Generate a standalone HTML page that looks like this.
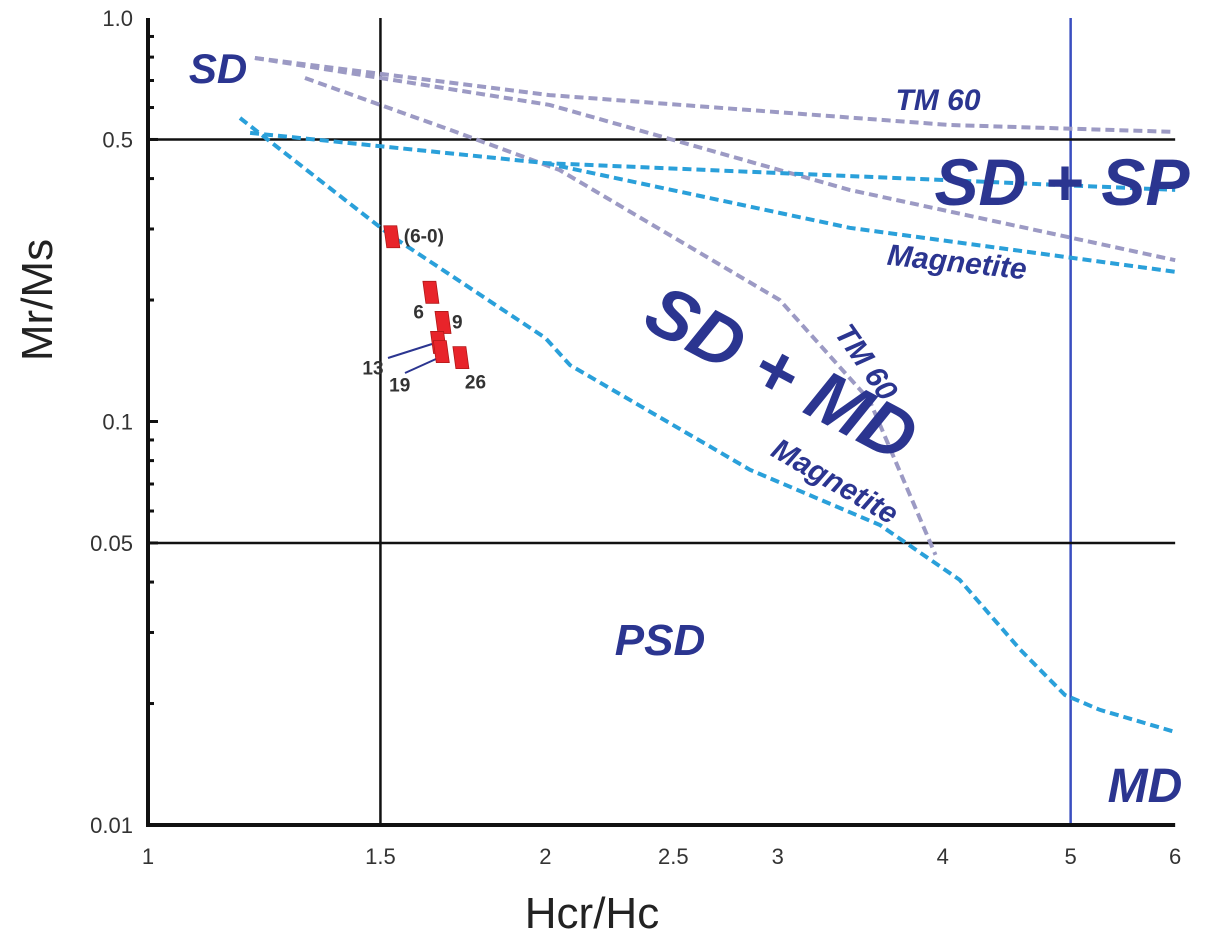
<!DOCTYPE html>
<html><head><meta charset="utf-8"><style>
html,body{margin:0;padding:0;background:#fff;}
svg{display:block;font-family:"Liberation Sans",sans-serif;}
</style></head><body>
<svg id="chart" width="1212" height="941" viewBox="0 0 1212 941" xmlns="http://www.w3.org/2000/svg">
<g id="grid"></g><g id="curves"></g><g id="axes"></g><g id="labels"></g><g id="points"></g>
</svg>
<script>
// ---- data ----
const xTicks = [1, 1.5, 2, 2.5, 3, 4, 5, 6];
const xTickLabels = ["1", "1.5", "2", "2.5", "3", "4", "5", "6"];
const yTicks = [1.0, 0.5, 0.1, 0.05, 0.01];
const yTickLabels = ["1.0", "0.5", "0.1", "0.05", "0.01"];
const sampleNames = ["(6-0)", "6", "9", "13", "19", "26"];
const sampleHcrHc = [1.53, 1.638, 1.673, 1.66, 1.668, 1.726];
const sampleMrMs = [0.287, 0.209, 0.176, 0.157, 0.149, 0.144];
const magMdX = [1.174, 1.525, 2.0, 2.088, 2.858, 3.585, 4.12, 4.58, 4.95, 5.26, 6.0];
const magMdY = [0.565, 0.290, 0.161, 0.138, 0.0759, 0.0554, 0.0405, 0.0272, 0.021, 0.0193, 0.017];
const magSpUpperX = [1.195, 2.0, 6.0];
const magSpUpperY = [0.519, 0.437, 0.375];
const magSpLowerX = [2.0, 3.40, 6.0];
const magSpLowerY = [0.437, 0.302, 0.235];
const tmTopX = [1.205, 2.015, 4.05, 6.0];
const tmTopY = [0.796, 0.644, 0.543, 0.522];
const tmSpX = [1.205, 2.015, 3.40, 6.0];
const tmSpY = [0.796, 0.609, 0.375, 0.251];
const tmMdX = [1.315, 1.694, 2.05, 3.01, 3.52, 3.95];
const tmMdY = [0.71, 0.528, 0.42, 0.2, 0.113, 0.0467];

// ---- axes functions ----
const X0 = 148, XPD = 1320, Y0 = 18, YPD = 403.5;
const sx = v => X0 + Math.log10(v) * XPD;
const sy = v => Y0 - Math.log10(v) * YPD;
const NS = "http://www.w3.org/2000/svg";
function mk(tag, attrs, parent) {
  const e = document.createElementNS(NS, tag);
  for (const k in attrs) e.setAttribute(k, attrs[k]);
  parent.appendChild(e); return e;
}
const grid = document.getElementById('grid'), curves = document.getElementById('curves'),
  axes = document.getElementById('axes'), labels = document.getElementById('labels'),
  points = document.getElementById('points');

let l;
l = mk('line', {x1: sx(1.5), x2: sx(1.5), y1: sy(1), y2: sy(0.01), stroke: '#111', 'stroke-width': 2.5}, grid);
 
l = mk('line', {x1: sx(5), x2: sx(5), y1: sy(1), y2: sy(0.01), stroke: '#3a4fc0', 'stroke-width': 2.5}, grid);
 
l = mk('line', {x1: sx(1), x2: sx(6), y1: sy(0.5), y2: sy(0.5), stroke: '#111', 'stroke-width': 2.5}, grid);
 
l = mk('line', {x1: sx(1), x2: sx(6), y1: sy(0.05), y2: sy(0.05), stroke: '#111', 'stroke-width': 2.5}, grid);
 

function curve(xs, ys, color, name) {
  const d = xs.map((v, i) => (i ? 'L' : 'M') + sx(v).toFixed(1) + ',' + sy(ys[i]).toFixed(1)).join('');
  const p = mk('path', {d: d, fill: 'none', stroke: color, 'stroke-width': 4, 'stroke-dasharray': '9 5'}, curves);
  
  
}
const GREY = '#9c9ac4', LB = '#2aa0da';
curve(tmTopX, tmTopY, GREY, 'tm60-sd-sp-upper-curve');
curve(tmSpX, tmSpY, GREY, 'tm60-sd-sp-curve');
curve(tmMdX, tmMdY, GREY, 'tm60-sd-md-curve');
curve(magSpUpperX, magSpUpperY, LB, 'magnetite-sd-sp-upper-curve');
curve(magSpLowerX, magSpLowerY, LB, 'magnetite-sd-sp-curve');
curve(magMdX, magMdY, LB, 'magnetite-sd-md-curve');

l = mk('line', {x1: X0, x2: X0, y1: sy(1), y2: sy(0.01) + 2, stroke: '#111', 'stroke-width': 4}, axes);
 
l = mk('line', {x1: X0 - 2, x2: sx(6), y1: sy(0.01), y2: sy(0.01), stroke: '#111', 'stroke-width': 4}, axes);
 
for (let d = 0.01; d < 1; d *= 10) for (let m = 1; m < 10; m++) {
  const v = d * m; if (v > 1) continue;
  const t = mk('line', {x1: X0, x2: X0 + (m === 1 || m === 5 ? 10 : 6), y1: sy(v), y2: sy(v), stroke: '#111', 'stroke-width': 3}, axes);
   
}
yTicks.forEach((v, i) => {
  const t = mk('text', {x: 133, y: sy(v) + 8, 'text-anchor': 'end', 'font-size': 22, fill: '#333'}, axes);
  t.textContent = yTickLabels[i];
   
});
xTicks.forEach((v, i) => {
  const t = mk('text', {x: sx(v), y: 864, 'text-anchor': 'middle', 'font-size': 22, fill: '#333'}, axes);
  t.textContent = xTickLabels[i];
   
});
let t = mk('text', {x: 592, y: 928, 'text-anchor': 'middle', 'font-size': 44, fill: '#222'}, axes);
t.textContent = 'Hcr/Hc';  
t = mk('text', {x: 0, y: 0, 'text-anchor': 'middle', 'font-size': 44, fill: '#222', transform: 'translate(52,300) rotate(-90)'}, axes);
t.textContent = 'Mr/Ms';  

function lab(txt, x, y, size, rot, name) {
  const e = mk('text', {x: 0, y: 0, 'font-size': size, 'font-weight': 'bold', 'font-style': 'italic', fill: '#2b3590', 'text-anchor': 'middle', transform: `translate(${x},${y}) rotate(${rot})`}, labels);
  e.textContent = txt;
  
  
}
lab('SD', 218, 83, 42, 0, 'sd-region-label');
lab('TM 60', 938, 110, 30, 0, 'tm60-top-label');
lab('SD + SP', 1062, 205, 66, 0, 'sd-sp-region-label');
lab('Magnetite', 956, 272, 30, 6, 'magnetite-sp-label');
lab('SD + MD', 770, 395, 72, 28, 'sd-md-region-label');
lab('TM 60', 858, 368, 30, 55, 'tm60-md-label');
lab('Magnetite', 830, 490, 30, 30, 'magnetite-md-label');
lab('PSD', 660, 655, 44, 0, 'psd-region-label');
lab('MD', 1145, 802, 48, 0, 'md-region-label');

const lead = [[3, 388, 358, 432, 344], [4, 405, 373, 436, 359]];
lead.forEach(a => {
  const e = mk('line', {x1: a[1], y1: a[2], x2: a[3], y2: a[4], stroke: '#2b3590', 'stroke-width': 2}, points);
  
  
});
const labOff = [[12, 6, 'start'], [-7, 26, 'end'], [9, 6, 'start'], [-55, 32, 'end'], [-31, 40, 'end'], [4, 31, 'start']];
sampleNames.forEach((n, i) => {
  const cx = sx(sampleHcrHc[i]), cy = sy(sampleMrMs[i]);
  const r = mk('polygon', {points: `${cx-5},${cy+11} ${cx+8},${cy+11} ${cx+5},${cy-11} ${cx-8},${cy-11}`, fill: '#e8242a', stroke: '#b01818', 'stroke-width': 0.8}, points);
  
  
  const tx = mk('text', {x: cx + labOff[i][0], y: cy + labOff[i][1], 'text-anchor': labOff[i][2], 'font-size': 19, 'font-weight': 'bold', fill: '#333'}, points);
  tx.textContent = n;
  
  
});
</script>
</body></html>
